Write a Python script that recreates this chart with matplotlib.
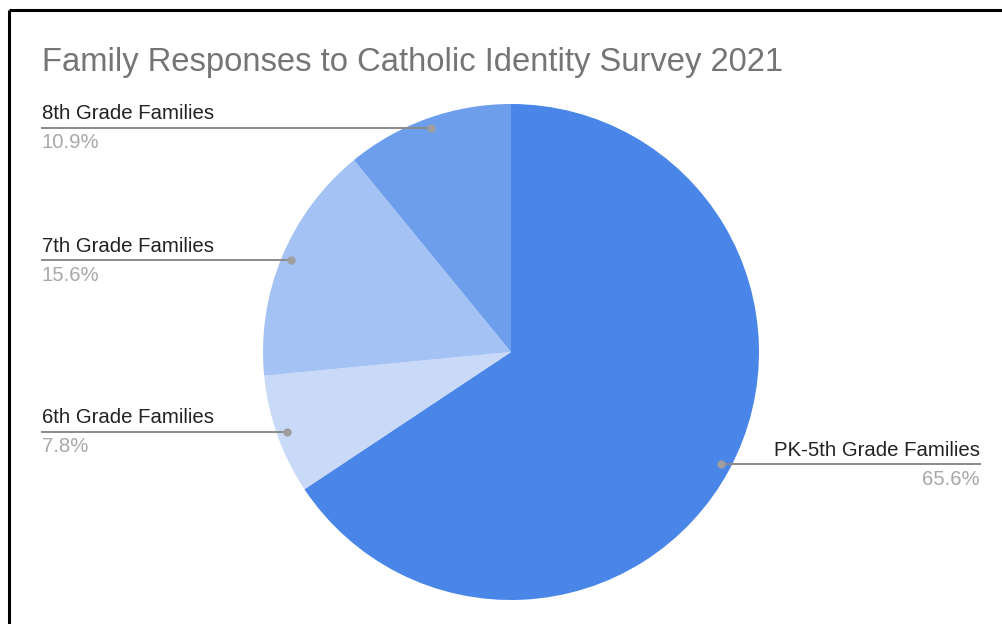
import matplotlib
matplotlib.use("Agg")
import matplotlib.pyplot as plt
import numpy as np

categories = ["PK-5th Grade Families", "6th Grade Families", "7th Grade Families", "8th Grade Families"]
shares = [65.6, 7.8, 15.6, 10.9]
colors = ["#4a86e8", "#c9daf8", "#a4c2f4", "#6d9eeb"]
title = "Family Responses to Catholic Identity Survey 2021"

W, H = 1003, 624
fig = plt.figure(figsize=(W / 100, H / 100), dpi=100)
ax = fig.add_axes([0, 0, 1, 1])

cx, cy, r = 511, H - 352, 248
wedges, _ = ax.pie(shares, colors=colors, startangle=90, counterclock=False,
                   center=(cx, cy), radius=r, frame=True,
                   wedgeprops=dict(linewidth=0))
ax.set_xlim(0, W)
ax.set_ylim(0, H)
ax.set_aspect("equal")
ax.axis("off")

# frame edges (left and top)
ax.plot([9.5, 9.5], [0, H - 10], color="black", lw=2.2, solid_capstyle="butt")
ax.plot([9.5, W], [H - 10, H - 10], color="black", lw=2.2, solid_capstyle="butt")

ax.text(42, H - 62, title, fontsize=23.6, color="#757575",
        family="Liberation Sans", va="center", ha="left")

# where each callout line ends and which side its text sits on
callout_end = {
    "PK-5th Grade Families": (980, "right"),
    "6th Grade Families": (42, "left"),
    "7th Grade Families": (42, "left"),
    "8th Grade Families": (42, "left"),
}

for w, cat, val in zip(wedges, categories, shares):
    x_end, side = callout_end[cat]
    theta = np.deg2rad((w.theta1 + w.theta2) / 2)
    px = cx + 0.96 * r * np.cos(theta)
    py = cy + 0.96 * r * np.sin(theta)
    ax.plot([px, x_end], [py, py], color="#8a8a8a", lw=1.4, zorder=3)
    ax.plot(px, py, "o", color="#9e9e9e", ms=5, zorder=4)
    ax.text(x_end, py + 14, cat, fontsize=14.7, color="#222222",
            family="Liberation Sans", ha=side, va="center")
    ax.text(x_end, py - 15, f"{val}%", fontsize=14.7, color="#a8a8a8",
            family="Liberation Sans", ha=side, va="center")

fig.savefig("out.png", dpi=100, facecolor="white")
